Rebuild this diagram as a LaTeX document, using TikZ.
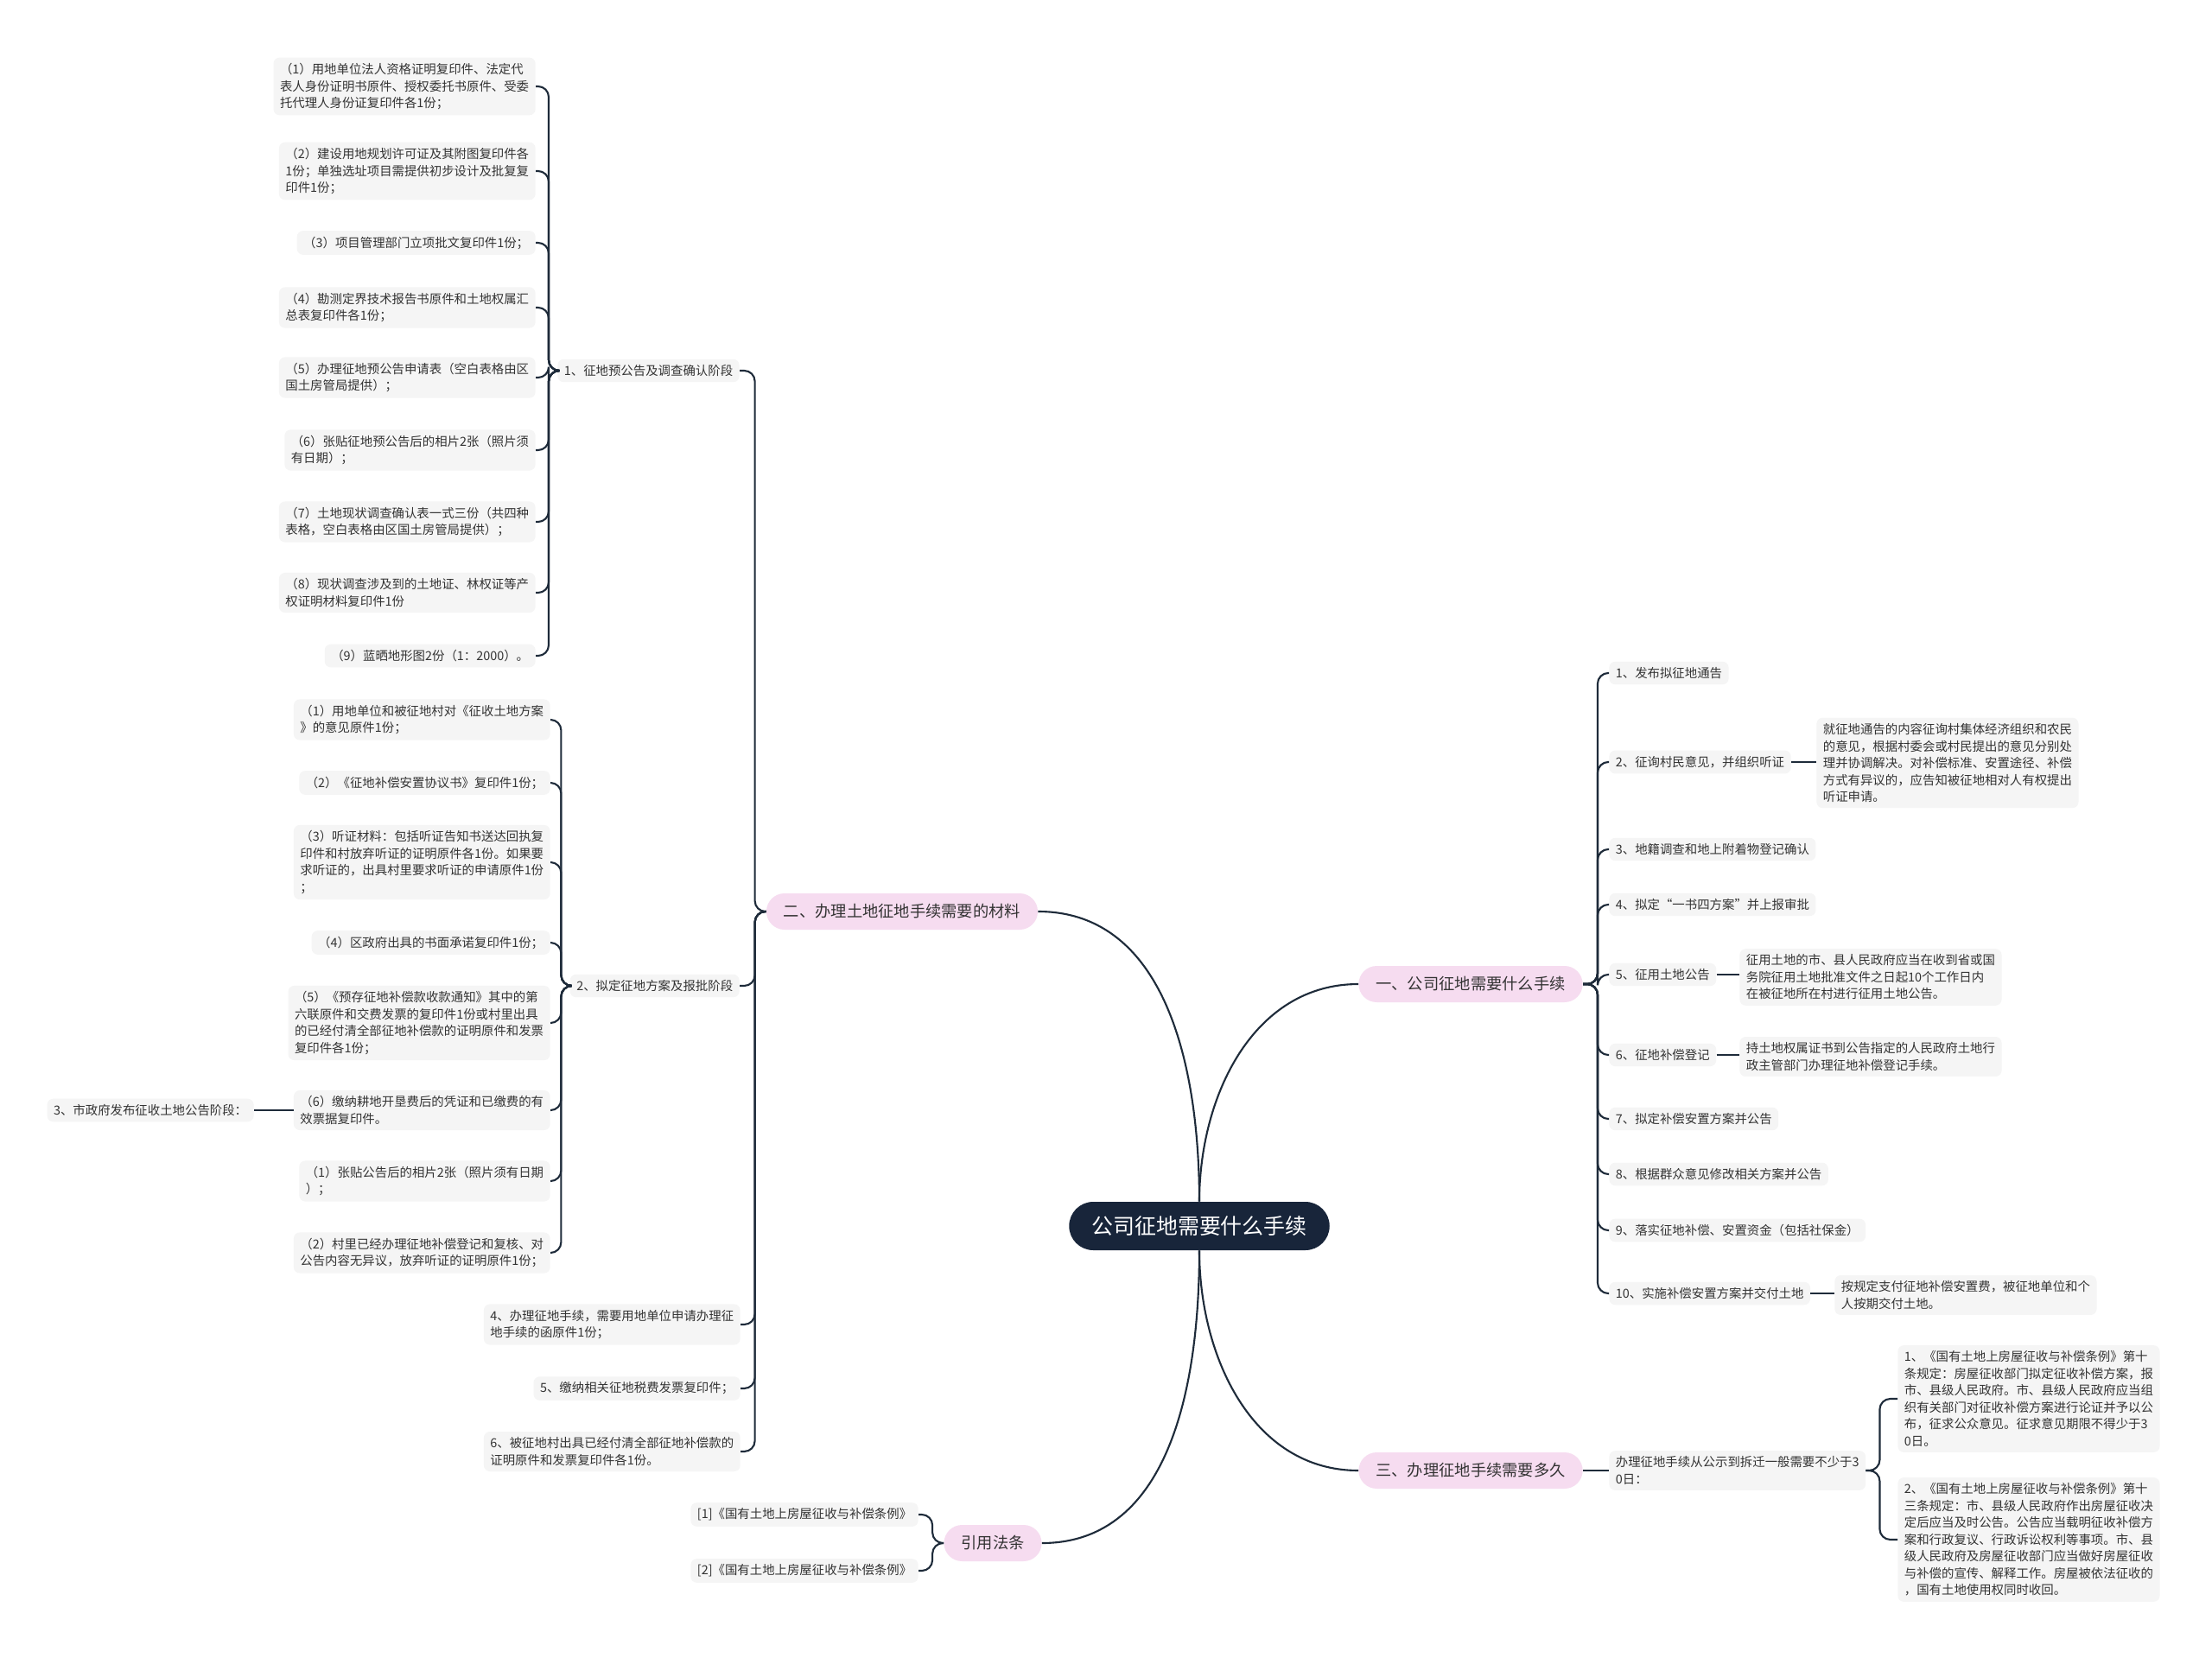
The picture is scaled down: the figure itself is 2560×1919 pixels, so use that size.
\documentclass[tikz,border=0pt]{standalone}
\usepackage{fontspec}
\setmainfont{Noto Sans CJK SC}
\usetikzlibrary{positioning}

\definecolor{linec}{HTML}{1E2B3A}
\definecolor{itemc}{HTML}{F5F5F5}
\definecolor{branchc}{HTML}{F6DCF0}
\definecolor{rootc}{HTML}{18253A}
\definecolor{textc}{HTML}{333333}

\newcommand{\itemfont}{\fontsize{8.2}{11.1}\selectfont}
\newcommand{\branchfont}{\fontsize{10.4}{12}\selectfont}
\newcommand{\rootfont}{\fontsize{14.2}{16}\selectfont}

\begin{document}
\begin{tikzpicture}[x=0.02cm, y=-0.02cm,
    item/.style={fill=itemc, rounded corners=4pt, inner xsep=0.15cm, inner ysep=0.13cm, align=left, text=textc, font=\itemfont},
    branch/.style={fill=branchc, rounded corners=0.42cm, minimum height=0.84cm, inner xsep=0.4cm, text=textc, font=\branchfont},
    root/.style={fill=rootc, rounded corners=0.56cm, minimum height=1.12cm, inner xsep=0.52cm, text=white, font=\rootfont},
    link/.style={draw=linec, line width=1.2pt, rounded corners=7pt}]

    \path[use as bounding box, fill=white] (0,0) rectangle (2560,1919);

    % centre and main branches
    \node[root] (root) at (1388,1419) {公司征地需要什么手续};
    \node[branch] (b1) at (1702,1139) {一、公司征地需要什么手续};
    \node[branch] (b2) at (1044,1055) {二、办理土地征地手续需要的材料};
    \node[branch] (b3) at (1702,1702) {三、办理征地手续需要多久};
    \node[branch] (b4) at (1149,1786) {引用法条};

    % 二: stages
    \node[item, anchor=east] (s1) at (856,429) {1、征地预公告及调查确认阶段};
    \node[item, anchor=east] (s2) at (856,1141) {2、拟定征地方案及报批阶段};
    \node[item, anchor=east] (s4) at (857,1533) {4、办理征地手续，需要用地单位申请办理征\\地手续的函原件1份；};
    \node[item, anchor=east] (s5) at (857,1607) {5、缴纳相关征地税费发票复印件；};
    \node[item, anchor=east] (s6) at (857,1680) {6、被征地村出具已经付清全部征地补偿款的\\证明原件和发票复印件各1份。};

    % stage 1 materials
    \node[item, anchor=east] (p1) at (620,100) {（1）用地单位法人资格证明复印件、法定代\\表人身份证明书原件、授权委托书原件、受委\\托代理人身份证复印件各1份；};
    \node[item, anchor=east] (p2) at (620,198) {（2）建设用地规划许可证及其附图复印件各\\1份；单独选址项目需提供初步设计及批复复\\印件1份；};
    \node[item, anchor=east] (p3) at (620,281) {（3）项目管理部门立项批文复印件1份；};
    \node[item, anchor=east] (p4) at (620,356) {（4）勘测定界技术报告书原件和土地权属汇\\总表复印件各1份；};
    \node[item, anchor=east] (p5) at (620,437) {（5）办理征地预公告申请表（空白表格由区\\国土房管局提供）；};
    \node[item, anchor=east] (p6) at (620,521) {（6）张贴征地预公告后的相片2张（照片须\\有日期）；};
    \node[item, anchor=east] (p7) at (620,604) {（7）土地现状调查确认表一式三份（共四种\\表格，空白表格由区国土房管局提供）；};
    \node[item, anchor=east] (p8) at (620,686) {（8）现状调查涉及到的土地证、林权证等产\\权证明材料复印件1份};
    \node[item, anchor=east] (p9) at (620,759) {（9）蓝晒地形图2份（1：2000）。};

    % stage 2 materials
    \node[item, anchor=east] (q1) at (637,833) {（1）用地单位和被征地村对《征收土地方案\\》的意见原件1份；};
    \node[item, anchor=east] (q2) at (637,906) {（2）《征地补偿安置协议书》复印件1份；};
    \node[item, anchor=east] (q3) at (637,998) {（3）听证材料：包括听证告知书送达回执复\\印件和村放弃听证的证明原件各1份。如果要\\求听证的，出具村里要求听证的申请原件1份\\；};
    \node[item, anchor=east] (q4) at (637,1091) {（4）区政府出具的书面承诺复印件1份；};
    \node[item, anchor=east] (q5) at (637,1184) {（5）《预存征地补偿款收款通知》其中的第\\六联原件和交费发票的复印件1份或村里出具\\的已经付清全部征地补偿款的证明原件和发票\\复印件各1份；};
    \node[item, anchor=east] (q6) at (637,1285) {（6）缴纳耕地开垦费后的凭证和已缴费的有\\效票据复印件。};
    \node[item, anchor=east] (q7) at (637,1367) {（1）张贴公告后的相片2张（照片须有日期\\）；};
    \node[item, anchor=east] (q8) at (637,1450) {（2）村里已经办理征地补偿登记和复核、对\\公告内容无异议，放弃听证的证明原件1份；};
    \node[item, anchor=east] (s3) at (294,1285) {3、市政府发布征收土地公告阶段：};

    % 一: steps
    \node[item, anchor=west] (t1) at (1862,779) {1、发布拟征地通告};
    \node[item, anchor=west] (t2) at (1862,882) {2、征询村民意见，并组织听证};
    \node[item, anchor=west] (t3) at (1862,983) {3、地籍调查和地上附着物登记确认};
    \node[item, anchor=west] (t4) at (1862,1047) {4、拟定“一书四方案”并上报审批};
    \node[item, anchor=west] (t5) at (1862,1128) {5、征用土地公告};
    \node[item, anchor=west] (t6) at (1862,1221) {6、征地补偿登记};
    \node[item, anchor=west] (t7) at (1862,1295) {7、拟定补偿安置方案并公告};
    \node[item, anchor=west] (t8) at (1862,1359) {8、根据群众意见修改相关方案并公告};
    \node[item, anchor=west] (t9) at (1862,1424) {9、落实征地补偿、安置资金（包括社保金）};
    \node[item, anchor=west] (t10) at (1862,1497) {10、实施补偿安置方案并交付土地};

    \node[item, anchor=west] (d2) at (2102,883) {就征地通告的内容征询村集体经济组织和农民\\的意见，根据村委会或村民提出的意见分别处\\理并协调解决。对补偿标准、安置途径、补偿\\方式有异议的，应告知被征地相对人有权提出\\听证申请。};
    \node[item, anchor=west] (d5) at (2013,1131) {征用土地的市、县人民政府应当在收到省或国\\务院征用土地批准文件之日起10个工作日内\\在被征地所在村进行征用土地公告。};
    \node[item, anchor=west] (d6) at (2013,1223) {持土地权属证书到公告指定的人民政府土地行\\政主管部门办理征地补偿登记手续。};
    \node[item, anchor=west] (d10) at (2123,1499) {按规定支付征地补偿安置费，被征地单位和个\\人按期交付土地。};

    % 三: duration
    \node[item, anchor=west] (u1) at (1862,1702) {办理征地手续从公示到拆迁一般需要不少于3\\0日：};
    \node[item, anchor=west] (v1) at (2196,1619) {1、《国有土地上房屋征收与补偿条例》第十\\条规定：房屋征收部门拟定征收补偿方案，报\\市、县级人民政府。市、县级人民政府应当组\\织有关部门对征收补偿方案进行论证并予以公\\布，征求公众意见。征求意见期限不得少于3\\0日。};
    \node[item, anchor=west] (v2) at (2196,1782) {2、《国有土地上房屋征收与补偿条例》第十\\三条规定：市、县级人民政府作出房屋征收决\\定后应当及时公告。公告应当载明征收补偿方\\案和行政复议、行政诉讼权利等事项。市、县\\级人民政府及房屋征收部门应当做好房屋征收\\与补偿的宣传、解释工作。房屋被依法征收的\\，国有土地使用权同时收回。};

    % references
    \node[item, anchor=east] (r1) at (1063,1753) {[1]《国有土地上房屋征收与补偿条例》};
    \node[item, anchor=east] (r2) at (1063,1818) {[2]《国有土地上房屋征收与补偿条例》};

    % connectors
    \draw[link] (root.north) to[out=90, in=180] (b1.west);
    \draw[link] (root.north) to[out=90, in=0] (b2.east);
    \draw[link] (root.south) to[out=-90, in=180] (b3.west);
    \draw[link] (root.south) to[out=-90, in=0] (b4.east);

    \draw[link] (b2.west) -- ++(-13,0) |- (s1.east);
    \draw[link] (b2.west) -- ++(-13,0) |- (s2.east);
    \draw[link] (b2.west) -- ++(-13,0) |- (s4.east);
    \draw[link] (b2.west) -- ++(-13,0) |- (s5.east);
    \draw[link] (b2.west) -- ++(-13,0) |- (s6.east);

    \draw[link] (s1.west) -- ++(-10,0) |- (p1.east);
    \draw[link] (s1.west) -- ++(-10,0) |- (p2.east);
    \draw[link] (s1.west) -- ++(-10,0) |- (p3.east);
    \draw[link] (s1.west) -- ++(-10,0) |- (p4.east);
    \draw[link] (s1.west) -- ++(-10,0) |- (p5.east);
    \draw[link] (s1.west) -- ++(-10,0) |- (p6.east);
    \draw[link] (s1.west) -- ++(-10,0) |- (p7.east);
    \draw[link] (s1.west) -- ++(-10,0) |- (p8.east);
    \draw[link] (s1.west) -- ++(-10,0) |- (p9.east);

    \draw[link] (s2.west) -- ++(-10,0) |- (q1.east);
    \draw[link] (s2.west) -- ++(-10,0) |- (q2.east);
    \draw[link] (s2.west) -- ++(-10,0) |- (q3.east);
    \draw[link] (s2.west) -- ++(-10,0) |- (q4.east);
    \draw[link] (s2.west) -- ++(-10,0) |- (q5.east);
    \draw[link] (s2.west) -- ++(-10,0) |- (q6.east);
    \draw[link] (s2.west) -- ++(-10,0) |- (q7.east);
    \draw[link] (s2.west) -- ++(-10,0) |- (q8.east);
    \draw[link] (q6.west) -- (s3.east);

    \draw[link] (b1.east) -- ++(17,0) |- (t1.west);
    \draw[link] (b1.east) -- ++(17,0) |- (t2.west);
    \draw[link] (b1.east) -- ++(17,0) |- (t3.west);
    \draw[link] (b1.east) -- ++(17,0) |- (t4.west);
    \draw[link] (b1.east) -- ++(17,0) |- (t5.west);
    \draw[link] (b1.east) -- ++(17,0) |- (t6.west);
    \draw[link] (b1.east) -- ++(17,0) |- (t7.west);
    \draw[link] (b1.east) -- ++(17,0) |- (t8.west);
    \draw[link] (b1.east) -- ++(17,0) |- (t9.west);
    \draw[link] (b1.east) -- ++(17,0) |- (t10.west);
    \draw[link] (t2.east) -- (t2.east -| d2.west);
    \draw[link] (t5.east) -- (t5.east -| d5.west);
    \draw[link] (t6.east) -- (t6.east -| d6.west);
    \draw[link] (t10.east) -- (t10.east -| d10.west);

    \draw[link] (b3.east) -- (u1.west);
    \draw[link] (u1.east) -- ++(16,0) |- (v1.west);
    \draw[link] (u1.east) -- ++(16,0) |- (v2.west);

    \draw[link] (b4.west) -- ++(-13,0) |- (r1.east);
    \draw[link] (b4.west) -- ++(-13,0) |- (r2.east);
  \end{tikzpicture}
\end{document}
